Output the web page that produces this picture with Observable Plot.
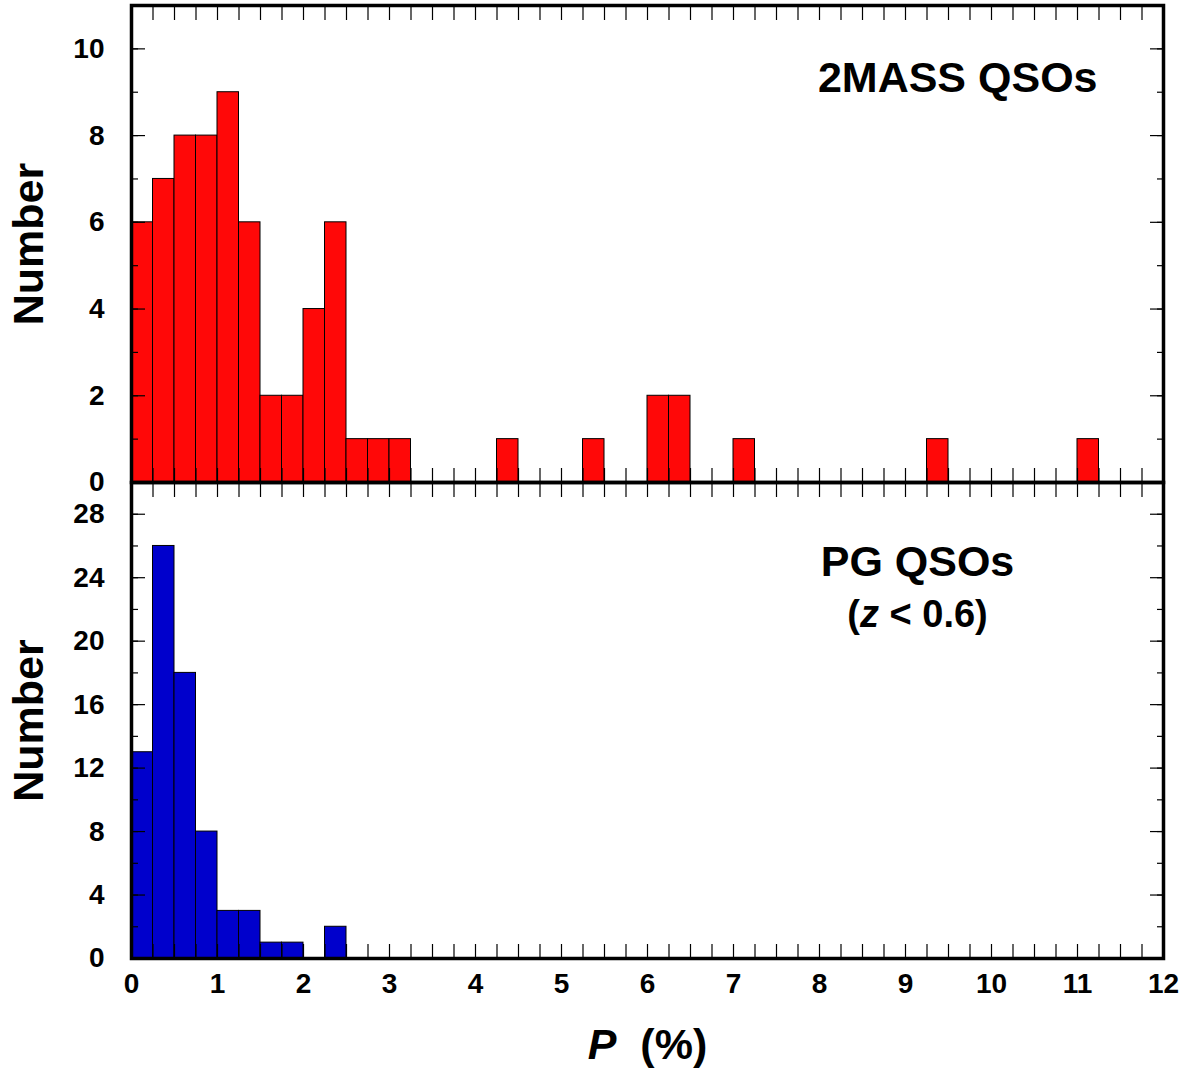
<!DOCTYPE html>
<html><head><meta charset="utf-8">
<script src="https://cdn.jsdelivr.net/npm/d3@7"></script>
<script src="https://cdn.jsdelivr.net/npm/@observablehq/plot@0.6"></script>
<style>body{margin:0;background:#fff}#chart svg{display:block}</style>
</head><body><div id="chart"></div>
<script>
// ---- data ----
const binWidth = 0.25;
const topBinStart = [0, 0.25, 0.5, 0.75, 1, 1.25, 1.5, 1.75, 2, 2.25, 2.5, 2.75, 3, 4.25, 5.25, 6, 6.25, 7, 9.25, 11];
const topCounts   = [6, 7, 8, 8, 9, 6, 2, 2, 4, 6, 1, 1, 1, 1, 1, 2, 2, 1, 1, 1];
const pgBinStart  = [0, 0.25, 0.5, 0.75, 1, 1.25, 1.5, 1.75, 2.25];
const pgCounts    = [13, 26, 18, 8, 3, 3, 1, 1, 2];
const xTickValues = [0, 1, 2, 3, 4, 5, 6, 7, 8, 9, 10, 11, 12];
const topYTicks = [0, 2, 4, 6, 8, 10];
const pgYTicks = [0, 4, 8, 12, 16, 20, 24, 28];
const topLabel = "2MASS QSOs";
const pgLabel = "PG QSOs";
const pgSubLabel = "(z < 0.6)";
const yLabel = "Number";
const xLabel = "P  (%)";

// ---- layout ----
const font = "'Liberation Sans', Arial, Helvetica, sans-serif";
const W = 1190, ML = 131, MR = 27;
const xMinor = d3.range(0, 12 + 1e-9, 0.25);
const blank = () => "";
const tickFont = 28;
const bigFont = 43;

function panel({binStart, counts, fill, yDomain, yMajor, yMinorStep, height, marginTop, marginBottom, extraMarks}) {
  const data = binStart.map((x0, i) => ({x1: x0, x2: x0 + binWidth, y: counts[i]}));
  const yMinor = d3.range(yDomain[0], yDomain[1] + 1e-9, yMinorStep);
  return Plot.plot({
    width: W, height, marginLeft: ML, marginRight: MR, marginTop, marginBottom,
    style: {fontFamily: font, fontSize: "28px", fontWeight: "bold", overflow: "visible", background: "white", color: "black"},
    x: {domain: [0, 12], label: null},
    y: {domain: yDomain, label: null},
    marks: [
      Plot.rectY(data, {x1: "x1", x2: "x2", y: "y", fill, stroke: "black", strokeWidth: 1}),
      Plot.axisY({anchor: "left", ticks: yMajor, tickSize: 0, tickPadding: 27, label: null, fontSize: tickFont, fontWeight: "bold"}),
      Plot.axisY({anchor: "left", ticks: yMajor, tickSize: -14, tickFormat: blank, label: null, strokeWidth: 1.2}),
      Plot.axisY({anchor: "left", ticks: yMinor, tickSize: -7, tickFormat: blank, label: null, strokeWidth: 1.2}),
      Plot.axisY({anchor: "right", ticks: yMajor, tickSize: -14, tickFormat: blank, label: null, strokeWidth: 1.2}),
      Plot.axisY({anchor: "right", ticks: yMinor, tickSize: -7, tickFormat: blank, label: null, strokeWidth: 1.2}),
      Plot.axisX({anchor: "top", ticks: xMinor, tickSize: -14, tickFormat: blank, label: null, strokeWidth: 1.2}),
      Plot.axisX({anchor: "bottom", ticks: xMinor, tickSize: -14, tickFormat: blank, label: null, strokeWidth: 1.2}),
      ...extraMarks,
      Plot.frame({stroke: "black", strokeWidth: 3.5}),
      Plot.text([yLabel], {frameAnchor: "left", dx: -102, rotate: -90, fontSize: bigFont, fontWeight: "bold", textAnchor: "middle", lineAnchor: "middle"})
    ]
  });
}

const topPlot = panel({
  binStart: topBinStart, counts: topCounts, fill: "#ff0808",
  yDomain: [0, 11], yMajor: topYTicks, yMinorStep: 1,
  height: 482, marginTop: 5, marginBottom: 0,
  extraMarks: [
    Plot.text([topLabel], {frameAnchor: "top-right", dx: -66, dy: 73, fontSize: bigFont, fontWeight: "bold", textAnchor: "end", lineAnchor: "middle"})
  ]
});

const pgPlot = panel({
  binStart: pgBinStart, counts: pgCounts, fill: "#0000cc",
  yDomain: [0, 30], yMajor: pgYTicks, yMinorStep: 2,
  height: 591, marginTop: 0, marginBottom: 115,
  extraMarks: [
    Plot.axisX({anchor: "bottom", ticks: xTickValues, tickSize: 0, tickPadding: 15, label: null, fontSize: tickFont, fontWeight: "bold"}),
    Plot.text([pgLabel], {frameAnchor: "top", dx: 270, dy: 80, fontSize: bigFont, fontWeight: "bold", textAnchor: "middle", lineAnchor: "middle"}),
    Plot.text([pgSubLabel], {frameAnchor: "top", dx: 270, dy: 132, fontSize: 38, fontWeight: "bold", textAnchor: "middle", lineAnchor: "middle"}),
    Plot.text([xLabel], {frameAnchor: "bottom", dx: 0, dy: 87, fontSize: bigFont, fontWeight: "bold", textAnchor: "middle", lineAnchor: "middle"})
  ]
});

const root = document.getElementById("chart");
root.appendChild(topPlot);
root.appendChild(pgPlot);

// italic letters inside labels
function italicize(svg, label, parts) {
  d3.select(svg).selectAll("text").filter(function() { return this.textContent === label; }).each(function() {
    const t = d3.select(this);
    t.text(null);
    parts.forEach(([s, it]) => {
      const sp = t.append("tspan").text(s);
      if (it) sp.attr("font-style", "italic");
    });
  });
}
italicize(pgPlot, pgSubLabel, [["(", false], ["z", true], [" < 0.6)", false]]);
italicize(pgPlot, xLabel, [["P", true], ["  (%)", false]]);
</script>
</body></html>
